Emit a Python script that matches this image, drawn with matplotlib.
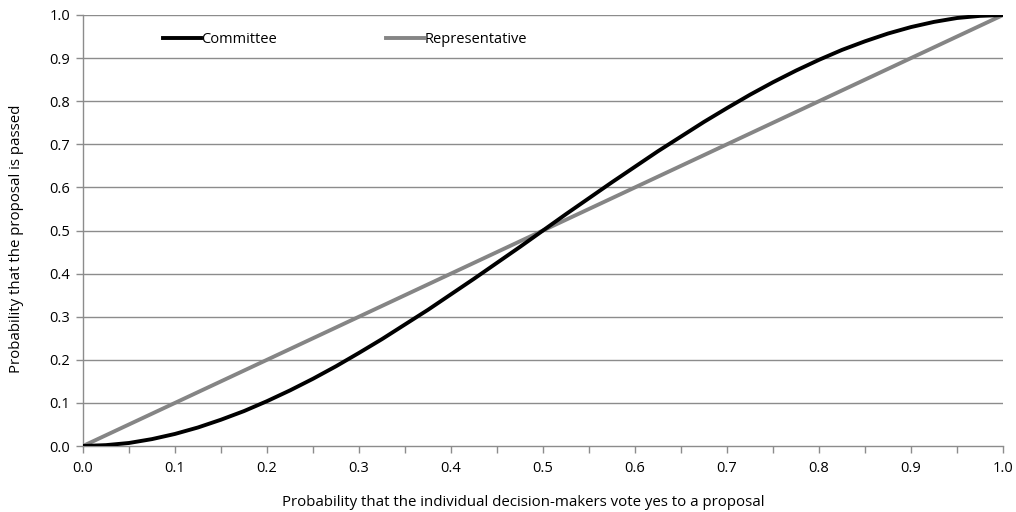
import matplotlib
matplotlib.use("Agg")
import matplotlib.pyplot as plt
from matplotlib.lines import Line2D

plt.rcParams['font.family'] = ['Open Sans', 'DejaVu Sans']

p = [0.0, 0.025, 0.05, 0.075, 0.1, 0.125, 0.15, 0.175, 0.2, 0.225, 0.25,
     0.275, 0.3, 0.325, 0.35, 0.375, 0.4, 0.425, 0.45, 0.475, 0.5,
     0.525, 0.55, 0.575, 0.6, 0.625, 0.65, 0.675, 0.7, 0.725, 0.75,
     0.775, 0.8, 0.825, 0.85, 0.875, 0.9, 0.925, 0.95, 0.975, 1.0]
committee = [0.0, 0.002, 0.007, 0.016, 0.028, 0.043, 0.061, 0.081, 0.104, 0.129, 0.156,
             0.185, 0.216, 0.248, 0.282, 0.316, 0.352, 0.388, 0.425, 0.462, 0.5,
             0.538, 0.575, 0.612, 0.648, 0.684, 0.718, 0.752, 0.784, 0.815, 0.844,
             0.871, 0.896, 0.919, 0.939, 0.957, 0.972, 0.984, 0.993, 0.998, 1.0]
rep_x = [0.0, 0.5, 1.0]
representative = [0.0, 0.5, 1.0]
xticks = [0.0, 0.1, 0.2, 0.3, 0.4, 0.5, 0.6, 0.7, 0.8, 0.9, 1.0]
yticks = [0.0, 0.1, 0.2, 0.3, 0.4, 0.5, 0.6, 0.7, 0.8, 0.9, 1.0]

fig = plt.figure(figsize=(10.16, 5.12), dpi=100)
ax = fig.add_axes([83/1016, 1 - 446/512, (1003-83)/1016, (446-15)/512])

gray = '#8c8c8c'
for y in yticks[1:]:
    ax.axhline(y, color=gray, lw=1.0, zorder=1)

ax.plot(rep_x, representative, color='#858585', lw=2.8, zorder=3, solid_capstyle='butt')
ax.plot(p, committee, color='black', lw=2.8, zorder=4, solid_capstyle='butt')

ax.set_xlim(0, 1)
ax.set_ylim(0, 1)
ax.set_xticks(xticks)
ax.set_xticklabels([f"{v:.1f}" for v in xticks])
ax.set_xticks([0.05 + 0.1*i for i in range(10)], minor=True)
ax.set_yticks(yticks)
ax.set_yticklabels([f"{v:.1f}" for v in yticks])

for s in ['top', 'right']:
    ax.spines[s].set_visible(False)
for s in ['left', 'bottom']:
    ax.spines[s].set_color(gray)
    ax.spines[s].set_linewidth(1.0)

ax.tick_params(axis='x', which='both', direction='out', length=5, color=gray, width=1.0,
               labelsize=10.5, pad=6)
ax.tick_params(axis='y', which='both', direction='out', length=5, color=gray, width=1.0,
               labelsize=10.5, pad=4)

ax.set_xlabel('Probability that the individual decision-makers vote yes to a proposal',
              fontsize=10.8)
ax.set_ylabel('Probability that the proposal is passed', fontsize=10.8)
ax.xaxis.set_label_coords(0.478, -0.113)
ax.yaxis.set_label_coords(-0.064, 0.48)

handles = [Line2D([], [], color='black', lw=2.8),
           Line2D([], [], color='#858585', lw=2.8)]
leg = ax.legend(handles, ['Committee', 'Representative'], loc='upper left',
                bbox_to_anchor=(0.073, 0.99), ncol=2, frameon=False, fontsize=10.5,
                handlelength=2.6, handletextpad=0.0, columnspacing=7.5)

fig.savefig('out.png', dpi=100)
